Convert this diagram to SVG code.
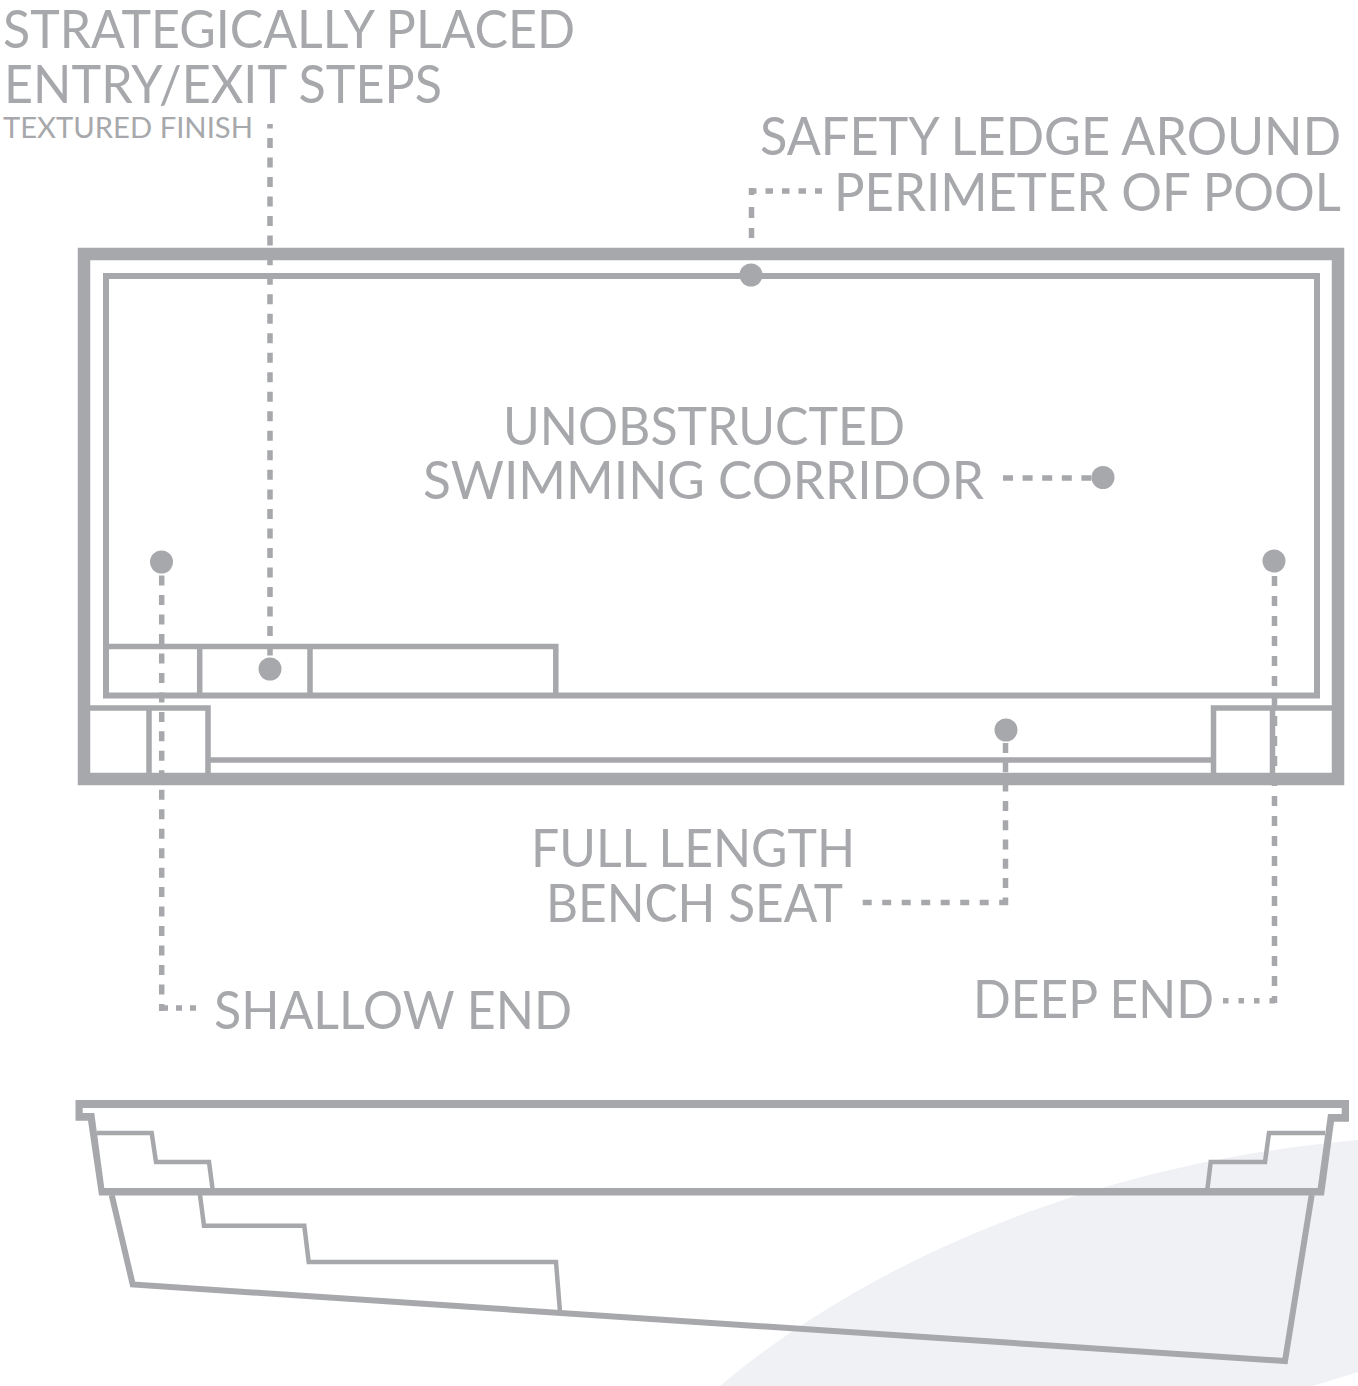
<svg xmlns="http://www.w3.org/2000/svg" width="1358" height="1386" viewBox="0 0 1358 1386">
<style>
.l{fill:none;stroke:#a7a8ab}
.d{fill:none;stroke:#a7a8ab;stroke-width:5.5}
.t{font-family:"Lato","Carlito","Liberation Sans",sans-serif;font-size:52px;fill:#a7a8ab}
.s{font-size:29px}
circle{fill:#a7a8ab}
</style>
<rect width="1358" height="1386" fill="#ffffff"/>
<path id="bg" d="M720 1386C855 1272 1075 1165 1358 1140L1358 1372L1313 1386Z" fill="#f0f1f5"/>
<g id="plan">
<rect class="l" x="84" y="254" width="1254" height="525" stroke-width="12.5"/>
<rect class="l" x="106" y="276" width="1211" height="419.5" stroke-width="6"/>
<path class="l" stroke-width="5.5" d="M106 646.500H555.800V695M199.700 646.500V695M310 646.500V695"/>
<path class="l" stroke-width="5.500" d="M88 708H208V774M149 708V774M1333 708H1213.500V774M1272.500 708V774M208 760H1213.500"/>
</g>
<g id="section">
<path fill="#a7a8ab" fill-rule="evenodd" d="M75.500 1100H1349V1121.700H1334L1324 1195.500H99L88 1120.700H75.500ZM82.700 1108V1113H94.300L104.300 1188H1317.700L1328 1114H1341.700V1108Z"/>
<path class="l" stroke-width="4.500" d="M97 1133H151.700L156 1162H209L212.700 1190M1325 1133H1269L1265 1162H1210.700L1207.300 1190M200 1195L204 1225.700H304.300L308.700 1262H556L560 1312"/>
<path class="l" stroke-width="6" d="M111.700 1195L132.700 1284.500L1285 1361L1311.700 1195"/>
</g>
<g id="connectors">
<path class="d" stroke-dasharray="7 12 11 10 10" d="M751.500 188V238"/>
<path class="d" stroke-dasharray="7.500 9" d="M749 191H822"/>
<path class="d" stroke-dasharray="10 9.520" stroke-dashoffset="5.500" d="M270 124V656"/>
<path class="d" stroke-dasharray="10 9.600" d="M1003 478H1095"/>
<path class="d" stroke-dasharray="10 9.470" d="M161.700 575.600V1011"/>
<path class="d" stroke-dasharray="6 8" d="M162 1008H196"/>
<path class="d" stroke-dasharray="10 10" d="M1274.500 576V1003"/>
<path class="d" stroke-dasharray="5.500 10" d="M1223 1000.700H1277"/>
<path class="d" stroke-dasharray="10 9.300" d="M1005.500 743V905"/>
<path class="d" stroke-dasharray="9 10.500" d="M862.700 902.500H1008"/>
</g>
<g id="dot-ledge"><circle cx="751" cy="275" r="11.500"/></g>
<g id="dot-corridor"><circle cx="1103" cy="477.500" r="11.500"/></g>
<g id="dot-shallow"><circle cx="161.500" cy="562" r="11.500"/></g>
<g id="dot-deep"><circle cx="1274" cy="561" r="11.500"/></g>
<g id="dot-bench"><circle cx="1006" cy="730" r="11.500"/></g>
<g id="dot-steps"><circle cx="270" cy="669" r="11.500"/></g>
<g id="labels">
<text class="t" x="3" y="47.500" textLength="572" lengthAdjust="spacingAndGlyphs">STRATEGICALLY PLACED</text>
<text class="t" x="4" y="102.500" textLength="438" lengthAdjust="spacingAndGlyphs">ENTRY/EXIT STEPS</text>
<text class="t s" x="3" y="137.500" textLength="250" lengthAdjust="spacingAndGlyphs">TEXTURED FINISH</text>
<text class="t" x="760" y="155" textLength="581" lengthAdjust="spacingAndGlyphs">SAFETY LEDGE AROUND</text>
<text class="t" x="834" y="210.500" textLength="507" lengthAdjust="spacingAndGlyphs">PERIMETER OF POOL</text>
<text class="t" x="503" y="444.500" textLength="402" lengthAdjust="spacingAndGlyphs">UNOBSTRUCTED</text>
<text class="t" x="423" y="498.500" textLength="561" lengthAdjust="spacingAndGlyphs">SWIMMING CORRIDOR</text>
<text class="t" x="531" y="866.500" textLength="324" lengthAdjust="spacingAndGlyphs">FULL LENGTH</text>
<text class="t" x="546" y="921.500" textLength="297" lengthAdjust="spacingAndGlyphs">BENCH SEAT</text>
<text class="t" x="214" y="1028.500" textLength="358" lengthAdjust="spacingAndGlyphs">SHALLOW END</text>
<text class="t" x="973" y="1017.500" textLength="241" lengthAdjust="spacingAndGlyphs">DEEP END</text>
</g>
</svg>
